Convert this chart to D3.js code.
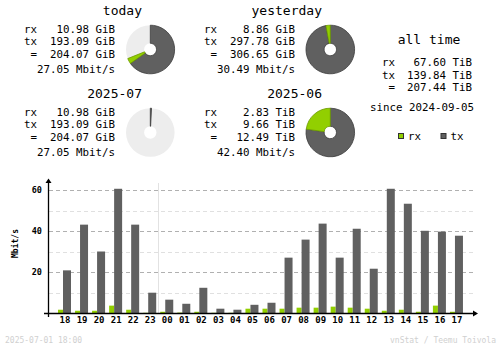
<!DOCTYPE html>
<html><head><meta charset="utf-8">
<script src="https://cdn.jsdelivr.net/npm/d3@7"></script>
<style>body{margin:0;background:#fff}svg{display:block}text{font-family:"DejaVu Sans Mono",monospace}</style>
</head><body><svg id="c" width="500" height="348"></svg>
<script>
// ---- data ----
const hours = ["18","19","20","21","22","23","00","01","02","03","04","05","06","07","08","09","10","11","12","13","14","15","16","17"];
const rxRate = [1.6,1.1,1.1,3.6,1.6,0.1,0.6,0.2,0.6,0.1,0.1,2.1,2.1,2.1,2.6,2.6,3.1,2.6,2.1,1.1,1.6,0.6,3.6,0.6];
const txRate = [20.8,43.1,30.0,60.6,43.1,9.9,6.5,4.5,12.3,2.1,1.6,4.0,5.0,27.0,35.8,43.6,27.0,41.1,21.6,60.6,53.3,40.1,39.7,37.7];
const majorTicks = [20,40,60];
const minorTicks = [10,30,50];
const dayStart = "00";
const yLabel = "Mbit/s";

const blockTitles = ["today","yesterday","2025-07","2025-06"];
const blockRx = ["10.98 GiB","8.86 GiB","10.98 GiB","2.83 TiB"];
const blockTx = ["193.09 GiB","297.78 GiB","193.09 GiB","9.66 TiB"];
const blockTotal = ["204.07 GiB","306.65 GiB","204.07 GiB","12.49 TiB"];
const blockRate = ["27.05 Mbit/s","30.49 Mbit/s","27.05 Mbit/s","42.40 Mbit/s"];
const pieTxShare = [0.653, 0.971, 0.008, 0.772];
const pieRxShare = [0.036, 0.029, 0.0, 0.228];

const allTitle = "all time";
const allLabels = ["rx","tx","="];
const allValues = ["67.60 TiB","139.84 TiB","207.44 TiB"];
const sinceText = "since 2024-09-05";
const legendKeys = ["rx","tx"];
const footerLeft = "2025-07-01 18:00";
const footerRight = "vnStat / Teemu Toivola";

// ---- style ----
const C_RX = "#92cf00", C_TX = "#606060", C_RXD = "#6d9b00", C_TXD = "#3c3c3c";
const svg = d3.select("#c");

// ---- summary blocks ----
const origins = [[0,0],[180,0],[0,83],[180,83]];
const ang = d3.scaleLinear().domain([0,1]).range([0, 2*Math.PI]);
const arc = d3.arc().innerRadius(6.2).outerRadius(24.3);
blockTitles.forEach((t,i)=>{
  const g = svg.append("g").attr("transform",`translate(${origins[i][0]},${origins[i][1]})`);
  g.append("text").attr("x",142).attr("y",15).attr("text-anchor","end").attr("font-size",13).text(t);
  const rows = [["rx",blockRx[i]],["tx",blockTx[i]],["=",blockTotal[i]]];
  rows.forEach((r,j)=>{
    const yy = 32.7 + j*12.67;
    g.append("text").attr("x",37).attr("y",yy).attr("text-anchor","end").attr("font-size",10.8).text(r[0]);
    g.append("text").attr("x",115).attr("y",yy).attr("text-anchor","end").attr("font-size",10.8).text(r[1]);
  });
  g.append("text").attr("x",115).attr("y",72.7).attr("text-anchor","end").attr("font-size",10.8).text(blockRate[i]);
  const p = g.append("g").attr("transform","translate(150.3,49.5)");
  p.append("path").attr("d",arc({startAngle:0,endAngle:2*Math.PI})).attr("fill","#ededed");
  const txEnd = ang(pieTxShare[i]);
  const rxEnd = ang(pieTxShare[i]+pieRxShare[i]);
  p.append("path").attr("d",arc({startAngle:0,endAngle:txEnd})).attr("fill",C_TX).attr("stroke",C_TXD).attr("stroke-width",0.8);
  if (pieRxShare[i] > 0)
    p.append("path").attr("d",arc({startAngle:txEnd,endAngle:rxEnd})).attr("fill",C_RX).attr("stroke",C_RXD).attr("stroke-width",0.8);
});

// ---- all time ----
svg.append("text").attr("x",429).attr("y",44).attr("text-anchor","middle").attr("font-size",13).text(allTitle);
allLabels.forEach((l,j)=>{
  const yy = 66 + j*12.67;
  svg.append("text").attr("x",395).attr("y",yy).attr("text-anchor","end").attr("font-size",10.8).text(l);
  svg.append("text").attr("x",472).attr("y",yy).attr("text-anchor","end").attr("font-size",10.8).text(allValues[j]);
});
svg.append("text").attr("x",474).attr("y",111).attr("text-anchor","end").attr("font-size",10.8).text(sinceText);
legendKeys.forEach((k,j)=>{
  const lx = 398 + j*42.5;
  svg.append("rect").attr("x",lx+0.5).attr("y",133.5).attr("width",5).attr("height",5)
    .attr("fill",j? C_TX:C_RX).attr("stroke","#333").attr("stroke-width",1);
  svg.append("text").attr("x",lx+10).attr("y",140).attr("font-size",10.8).text(k);
});

// ---- bar chart ----
const y = d3.scaleLinear().domain([0,60]).range([313,190]);
const x = d3.scaleBand().domain(hours).range([56,465]);
const grid = svg.append("g");
grid.selectAll(".mn").data(minorTicks).join("line")
  .attr("x1",49).attr("x2",473).attr("y1",d=>Math.round(y(d))+0.5).attr("y2",d=>Math.round(y(d))+0.5)
  .attr("stroke","#e0e0e0").attr("stroke-dasharray","4,3");
grid.selectAll(".mj").data(majorTicks).join("line")
  .attr("x1",49).attr("x2",473).attr("y1",d=>Math.round(y(d))+0.5).attr("y2",d=>Math.round(y(d))+0.5)
  .attr("stroke","#b0b0b0").attr("stroke-dasharray","4,3");
svg.append("line").attr("x1",Math.round(x(dayStart))+0.5).attr("x2",Math.round(x(dayStart))+0.5)
  .attr("y1",183).attr("y2",313).attr("stroke","#e2e2e2");

svg.append("g").selectAll("rect").data(hours).join("rect")
  .attr("x",(d)=>x(d)+2).attr("width",5)
  .attr("y",(d,i)=>y(rxRate[i])).attr("height",(d,i)=>y(0)-y(rxRate[i])).attr("fill",C_RX);
svg.append("g").selectAll("rect").data(hours).join("rect")
  .attr("x",(d)=>x(d)+7).attr("width",8)
  .attr("y",(d,i)=>y(txRate[i])).attr("height",(d,i)=>y(0)-y(txRate[i])).attr("fill",C_TX);

// axes
const ya = svg.append("g").attr("transform","translate(48,0)")
  .call(d3.axisLeft(y).tickValues(majorTicks).tickSize(0).tickPadding(6));
ya.select(".domain").remove();
ya.selectAll("text").attr("font-size",8.5).attr("font-weight","bold").attr("font-family","DejaVu Sans Mono");
const xa = svg.append("g").attr("transform","translate(0,313)")
  .call(d3.axisBottom(x).tickSize(0).tickPadding(4));
xa.select(".domain").remove();
xa.selectAll("text").attr("font-size",9).attr("font-weight","bold").attr("font-family","DejaVu Sans Mono").attr("dx","0.5");

svg.append("line").attr("x1",48.5).attr("x2",48.5).attr("y1",182).attr("y2",317).attr("stroke","#000").attr("stroke-width",1.3);
svg.append("line").attr("x1",44).attr("x2",476).attr("y1",313.5).attr("y2",313.5).attr("stroke","#000").attr("stroke-width",1.3);
svg.append("path").attr("d","M45.5,183 L48.5,178.5 L51.5,183 Z").attr("fill","#000");
svg.append("path").attr("d","M473,310.5 L478,313.5 L473,316.5 Z").attr("fill","#000");
svg.append("text").attr("transform","translate(18,243.5) rotate(-90)").attr("text-anchor","middle")
  .attr("font-size",8).attr("font-weight","bold").text(yLabel);

// footer
svg.append("text").attr("x",5).attr("y",343).attr("font-size",8).attr("fill","#d0d0d0").text(footerLeft);
svg.append("text").attr("x",496).attr("y",343).attr("text-anchor","end").attr("font-size",8).attr("fill","#d0d0d0").text(footerRight);
</script></body></html>
